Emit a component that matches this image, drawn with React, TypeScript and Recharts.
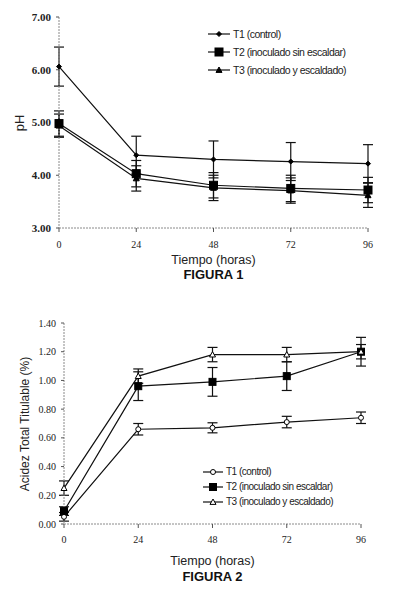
import { ComposedChart, ErrorBar, Line, XAxis, YAxis } from "recharts";

// Sampling times (hours) shared by both figures
const HOURS = [0, 24, 48, 72, 96];
const TREATMENTS = [
  "T1 (control)",
  "T2 (inoculado sin escaldar)",
  "T3 (inoculado y escaldado)",
];

// Figure 1: pH (mean and standard deviation)
const PH_T1 = [6.06, 4.38, 4.3, 4.26, 4.22];
const PH_T1_SD = [0.37, 0.36, 0.35, 0.36, 0.36];
const PH_T2 = [4.98, 4.03, 3.81, 3.75, 3.72];
const PH_T2_SD = [0.24, 0.25, 0.24, 0.25, 0.24];
const PH_T3 = [4.94, 3.94, 3.76, 3.71, 3.62];
const PH_T3_SD = [0.22, 0.24, 0.24, 0.24, 0.23];
const PH_TICKS = [3, 4, 5, 6, 7];

// Figure 2: acidez total titulable (%)
const AC_T1 = [0.05, 0.66, 0.67, 0.71, 0.74];
const AC_T1_SD = [0.03, 0.04, 0.035, 0.04, 0.04];
const AC_T2 = [0.09, 0.96, 0.99, 1.03, 1.2];
const AC_T2_SD = [0.03, 0.1, 0.1, 0.1, 0.1];
const AC_T3 = [0.25, 1.03, 1.18, 1.18, 1.2];
const AC_T3_SD = [0.05, 0.05, 0.05, 0.05, 0.05];
const AC_TICKS = [0, 0.2, 0.4, 0.6, 0.8, 1.0, 1.2, 1.4];

const SANS = "'Liberation Sans', Arial, sans-serif";
const SERIF = "'Liberation Serif', 'Times New Roman', serif";
const AXIS_LINE = { stroke: "#8a8a8a", strokeDasharray: "2 1" };
const TICK_LINE = { stroke: "#555" };

type Shape = "diamond" | "square" | "triangle" | "circle";
interface MarkerSpec {
  shape: Shape;
  size: number;
  hollow?: boolean;
}

function Marker({ cx, cy, spec }: { cx: number; cy: number; spec: MarkerSpec }) {
  const s = spec.size / 2;
  const fill = spec.hollow ? "#fff" : "#000";
  const common = { fill, stroke: "#000", strokeWidth: 1 };
  switch (spec.shape) {
    case "diamond":
      return <path d={`M${cx},${cy - s}L${cx + s},${cy}L${cx},${cy + s}L${cx - s},${cy}Z`} {...common} />;
    case "square":
      return <rect x={cx - s} y={cy - s} width={s * 2} height={s * 2} {...common} />;
    case "triangle":
      return <path d={`M${cx},${cy - s}L${cx + s},${cy + s * 0.8}L${cx - s},${cy + s * 0.8}Z`} {...common} />;
    default:
      return <circle cx={cx} cy={cy} r={s} {...common} />;
  }
}

function rows(values: number[][], sds: number[][]) {
  return HOURS.map((h, i) => ({
    h,
    t1: values[0][i],
    t1sd: sds[0][i],
    t2: values[1][i],
    t2sd: sds[1][i],
    t3: values[2][i],
    t3sd: sds[2][i],
  }));
}

interface FigureProps {
  top: number;
  data: ReturnType<typeof rows>;
  markers: MarkerSpec[];
  domain: [number, number];
  ticks: number[];
  yTitle: string;
  yTitleSize: number;
  yTitleX: number;
  caption: string;
  margin: { top: number; right: number; bottom: number; left: number };
  yAxisWidth: number;
  yTickStyle: React.CSSProperties & { fontSize: number };
  xTickMargin: number;
  titleY: number;
  captionY: number;
  legend: { left: number; top: number; row: number; fontSize: number; spacing: number; sample: number };
}

function Figure(p: FigureProps) {
  const height = 258;
  const plotLeft = p.margin.left + p.yAxisWidth;
  const plotRight = 394 - p.margin.right;
  const plotMid = (plotLeft + plotRight) / 2;
  const plotTop = p.margin.top;
  const plotBottom = height - p.margin.bottom - 30;
  const keys = ["t1", "t2", "t3"];

  return (
    <div style={{ position: "absolute", left: 0, top: p.top, width: 394, height: 300 }}>
      <ComposedChart width={394} height={height} data={p.data} margin={p.margin}>
        <XAxis
          dataKey="h"
          type="number"
          domain={[0, 96]}
          ticks={HOURS}
          height={30}
          axisLine={AXIS_LINE}
          tickLine={TICK_LINE}
          tickSize={4}
          tickMargin={p.xTickMargin}
          tick={{ fontSize: 10, fontFamily: SERIF, fill: "#222" }}
        />
        <YAxis
          type="number"
          domain={p.domain}
          ticks={p.ticks}
          width={p.yAxisWidth}
          axisLine={AXIS_LINE}
          tickLine={TICK_LINE}
          tickSize={3}
          tickMargin={5}
          tick={{ ...p.yTickStyle, fontFamily: SERIF, fill: "#222" }}
          tickFormatter={(v: number) => v.toFixed(2)}
          allowDataOverflow
        />
        {keys.map((k, i) => (
          <Line
            key={k}
            dataKey={k}
            stroke="#111"
            strokeWidth={1.2}
            isAnimationActive={false}
            dot={(d: { cx: number; cy: number; index: number }) => (
              <Marker key={`${k}-${d.index}`} cx={d.cx} cy={d.cy} spec={p.markers[i]} />
            )}
            activeDot={false}
          >
            <ErrorBar dataKey={`${k}sd`} width={5} stroke="#111" strokeWidth={1.2} direction="y" isAnimationActive={false} />
          </Line>
        ))}
      </ComposedChart>

      <div
        style={{
          position: "absolute",
          left: p.yTitleX,
          top: (plotTop + plotBottom) / 2,
          transform: "translate(-50%, -50%) rotate(-90deg)",
          whiteSpace: "nowrap",
          fontFamily: SANS,
          fontSize: p.yTitleSize,
          color: "#222",
        }}
      >
        {p.yTitle}
      </div>

      <div
        style={{
          position: "absolute",
          left: p.legend.left,
          top: p.legend.top,
          fontFamily: SANS,
          fontSize: p.legend.fontSize,
          letterSpacing: p.legend.spacing,
          color: "#222",
        }}
      >
        {TREATMENTS.map((name, i) => (
          <div key={name} style={{ display: "flex", alignItems: "center", height: p.legend.row, whiteSpace: "nowrap" }}>
            <svg width={p.legend.sample} height={10} style={{ marginRight: 3 }}>
              <line x1={0} y1={5} x2={p.legend.sample} y2={5} stroke="#111" strokeWidth={1.2} />
              <Marker cx={p.legend.sample / 2} cy={5} spec={p.markers[i]} />
            </svg>
            <span>{name}</span>
          </div>
        ))}
      </div>

      <div
        style={{
          position: "absolute",
          left: plotMid,
          top: p.titleY,
          transform: "translate(-50%, -50%)",
          whiteSpace: "nowrap",
          fontFamily: SANS,
          fontSize: 12.5,
          color: "#222",
        }}
      >
        Tiempo (horas)
      </div>
      <div
        style={{
          position: "absolute",
          left: plotMid,
          top: p.captionY,
          transform: "translate(-50%, -50%)",
          whiteSpace: "nowrap",
          fontFamily: SANS,
          fontSize: 13,
          fontWeight: 700,
          color: "#111",
        }}
      >
        {p.caption}
      </div>
    </div>
  );
}

export default function App() {
  const phData = rows([PH_T1, PH_T2, PH_T3], [PH_T1_SD, PH_T2_SD, PH_T3_SD]);
  const acData = rows([AC_T1, AC_T2, AC_T3], [AC_T1_SD, AC_T2_SD, AC_T3_SD]);

  return (
    <div style={{ position: "absolute", left: 0, top: 0, width: 394, height: 606, background: "#fff", overflow: "hidden" }}>
      <Figure
        top={0}
        data={phData}
        markers={[
          { shape: "diamond", size: 5 },
          { shape: "square", size: 8 },
          { shape: "triangle", size: 6 },
        ]}
        domain={[3, 7]}
        ticks={PH_TICKS}
        yTitle="pH"
        yTitleSize={13}
        yTitleX={19}
        caption="FIGURA 1"
        margin={{ top: 17, right: 26, bottom: 0, left: 0 }}
        yAxisWidth={59}
        yTickStyle={{ fontSize: 11, fontWeight: 700 }}
        xTickMargin={9}
        titleY={260}
        captionY={274}
        legend={{ left: 208, top: 25, row: 18, fontSize: 10.5, spacing: -0.5, sample: 22 }}
      />
      <Figure
        top={300}
        data={acData}
        markers={[
          { shape: "circle", size: 5, hollow: true },
          { shape: "square", size: 7 },
          { shape: "triangle", size: 6, hollow: true },
        ]}
        domain={[0, 1.4]}
        ticks={AC_TICKS}
        yTitle="Acidez Total Titulable (%)"
        yTitleSize={12}
        yTitleX={25}
        caption="FIGURA 2"
        margin={{ top: 23, right: 33, bottom: 4, left: 0 }}
        yAxisWidth={64}
        yTickStyle={{ fontSize: 10 }}
        xTickMargin={8}
        titleY={261}
        captionY={276}
        legend={{ left: 203, top: 164, row: 15, fontSize: 10, spacing: -0.5, sample: 20 }}
      />
    </div>
  );
}
